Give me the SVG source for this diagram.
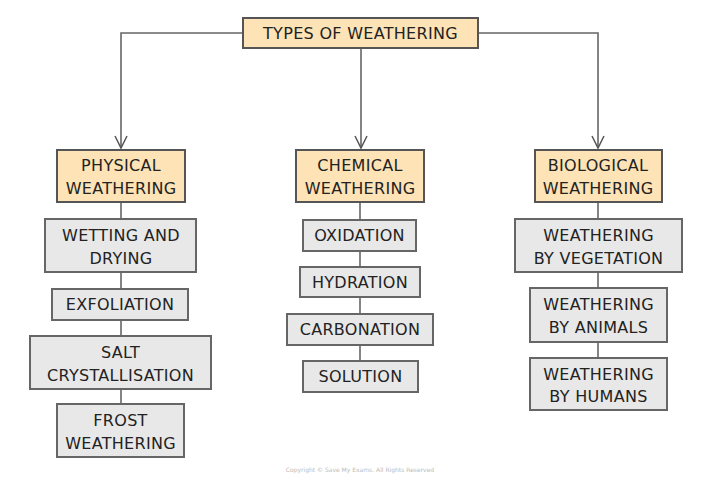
<svg xmlns="http://www.w3.org/2000/svg" width="720" height="483" viewBox="0 0 720 483">
<style>
.h{fill:#fde3b5;stroke:#555;stroke-width:2}
.b{fill:#e8e8e8;stroke:#666;stroke-width:2}
text{font-family:"DejaVu Sans",sans-serif;font-size:16px;fill:#222;text-anchor:middle;letter-spacing:0.3px}
.c{fill:none;stroke:#666;stroke-width:1.6}
</style>
<defs><marker id="a" markerWidth="16" markerHeight="16" refX="13" refY="7" orient="auto" markerUnits="userSpaceOnUse"><path d="M1,1 L13,7 L1,13" fill="none" stroke="#555" stroke-width="1.5"/></marker></defs>
<rect width="720" height="483" fill="#fff"/>
<g id="connectors" class="c">
<path d="M243,33 H121 V148" marker-end="url(#a)"/>
<path d="M478,33 H598 V148" marker-end="url(#a)"/>
<path d="M361,48 V148" marker-end="url(#a)"/>
<path d="M121,202 V404"/>
<path d="M360,202 V361"/>
<path d="M598,202 V358"/>
</g>
<g id="top"><rect class="h" x="243" y="18" width="235" height="30"/><text x="360.5" y="39">TYPES OF WEATHERING</text></g>
<g id="physical"><rect class="h" x="57" y="150" width="128" height="52"/><text x="121" y="171">PHYSICAL</text><text x="121" y="194">WEATHERING</text></g>
<g id="chemical"><rect class="h" x="296" y="150" width="128" height="52"/><text x="360" y="171">CHEMICAL</text><text x="360" y="194">WEATHERING</text></g>
<g id="biological"><rect class="h" x="535" y="150" width="127" height="52"/><text x="598" y="171">BIOLOGICAL</text><text x="598" y="194">WEATHERING</text></g>
<g id="wetting"><rect class="b" x="45" y="219" width="151" height="53"/><text x="121" y="241">WETTING AND</text><text x="121" y="264">DRYING</text></g>
<g id="exfoliation"><rect class="b" x="52" y="289" width="136" height="31"/><text x="120" y="310">EXFOLIATION</text></g>
<g id="salt"><rect class="b" x="30" y="336" width="181" height="53"/><text x="120.5" y="358">SALT</text><text x="120.5" y="381">CRYSTALLISATION</text></g>
<g id="frost"><rect class="b" x="57" y="404" width="127" height="53"/><text x="120.5" y="426">FROST</text><text x="120.5" y="449">WEATHERING</text></g>
<g id="oxidation"><rect class="b" x="303" y="220" width="113" height="31"/><text x="359.5" y="241">OXIDATION</text></g>
<g id="hydration"><rect class="b" x="300" y="267" width="120" height="30"/><text x="360" y="288">HYDRATION</text></g>
<g id="carbonation"><rect class="b" x="287" y="314" width="146" height="31"/><text x="360" y="335">CARBONATION</text></g>
<g id="solution"><rect class="b" x="303" y="361" width="115" height="31"/><text x="360.5" y="382">SOLUTION</text></g>
<g id="vegetation"><rect class="b" x="515" y="219" width="167" height="53"/><text x="598.5" y="241">WEATHERING</text><text x="598.5" y="264">BY VEGETATION</text></g>
<g id="animals"><rect class="b" x="530" y="288" width="137" height="54"/><text x="598.5" y="310">WEATHERING</text><text x="598.5" y="333">BY ANIMALS</text></g>
<g id="humans"><rect class="b" x="530" y="358" width="137" height="52"/><text x="598.5" y="380">WEATHERING</text><text x="598.5" y="402">BY HUMANS</text></g>
<text x="360" y="472" style="font-size:6px;fill:#bbb;letter-spacing:0">Copyright © Save My Exams. All Rights Reserved</text>
</svg>
